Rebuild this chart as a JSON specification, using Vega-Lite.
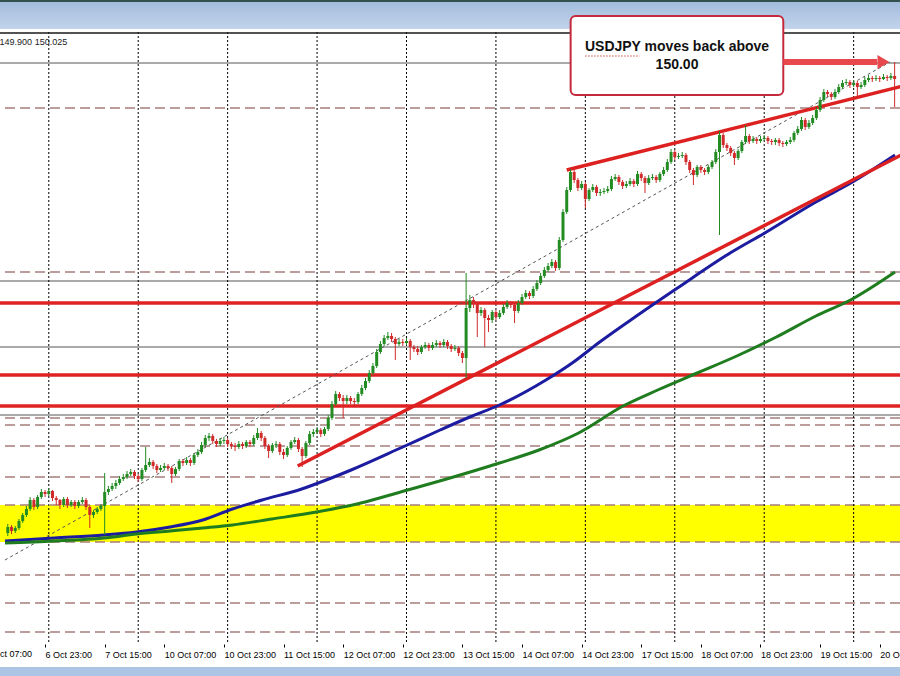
{
  "$schema": "https://vega.github.io/schema/vega-lite/v6.json",
  "width": 900,
  "height": 636,
  "autosize": {"type": "none"},
  "padding": {"top": 32, "bottom": 8, "left": 0, "right": 0},
  "background": "white",
  "config": {"view": {"stroke": null}},
  "datasets": {
    "candles": [
      {"i":6,"o":145.52,"h":145.61,"l":145.49,"c":145.58},
      {"i":7,"o":145.58,"h":145.60,"l":145.51,"c":145.54},
      {"i":8,"o":145.54,"h":145.59,"l":145.52,"c":145.57},
      {"i":9,"o":145.57,"h":145.66,"l":145.55,"c":145.64},
      {"i":10,"o":145.64,"h":145.72,"l":145.62,"c":145.70},
      {"i":11,"o":145.70,"h":145.79,"l":145.68,"c":145.76},
      {"i":12,"o":145.76,"h":145.88,"l":145.74,"c":145.85},
      {"i":13,"o":145.85,"h":145.87,"l":145.75,"c":145.78},
      {"i":14,"o":145.78,"h":145.90,"l":145.76,"c":145.88},
      {"i":15,"o":145.88,"h":145.96,"l":145.86,"c":145.93},
      {"i":16,"o":145.93,"h":145.95,"l":145.88,"c":145.91},
      {"i":17,"o":145.91,"h":145.97,"l":145.89,"c":145.94},
      {"i":18,"o":145.94,"h":145.95,"l":145.84,"c":145.87},
      {"i":19,"o":145.87,"h":145.89,"l":145.80,"c":145.85},
      {"i":20,"o":145.85,"h":145.86,"l":145.76,"c":145.80},
      {"i":21,"o":145.80,"h":145.88,"l":145.78,"c":145.86},
      {"i":22,"o":145.86,"h":145.88,"l":145.77,"c":145.80},
      {"i":23,"o":145.80,"h":145.85,"l":145.78,"c":145.83},
      {"i":24,"o":145.83,"h":145.85,"l":145.76,"c":145.79},
      {"i":25,"o":145.79,"h":145.85,"l":145.77,"c":145.83},
      {"i":26,"o":145.83,"h":145.88,"l":145.81,"c":145.85},
      {"i":27,"o":145.85,"h":145.87,"l":145.75,"c":145.78},
      {"i":28,"o":145.78,"h":145.80,"l":145.57,"c":145.70},
      {"i":29,"o":145.70,"h":145.75,"l":145.67,"c":145.73},
      {"i":30,"o":145.73,"h":145.78,"l":145.71,"c":145.76},
      {"i":31,"o":145.76,"h":145.81,"l":145.74,"c":145.79},
      {"i":32,"o":145.79,"h":146.12,"l":145.50,"c":145.93},
      {"i":33,"o":145.93,"h":145.99,"l":145.90,"c":145.96},
      {"i":34,"o":145.96,"h":146.02,"l":145.94,"c":145.99},
      {"i":35,"o":145.99,"h":146.05,"l":145.96,"c":146.02},
      {"i":36,"o":146.02,"h":146.09,"l":146.00,"c":146.06},
      {"i":37,"o":146.06,"h":146.11,"l":146.04,"c":146.08},
      {"i":38,"o":146.08,"h":146.14,"l":146.06,"c":146.11},
      {"i":39,"o":146.11,"h":146.16,"l":146.09,"c":146.13},
      {"i":40,"o":146.13,"h":146.15,"l":146.06,"c":146.09},
      {"i":41,"o":146.09,"h":146.11,"l":146.03,"c":146.06},
      {"i":42,"o":146.06,"h":146.17,"l":146.04,"c":146.15},
      {"i":43,"o":146.15,"h":146.38,"l":146.13,"c":146.20},
      {"i":44,"o":146.20,"h":146.27,"l":146.18,"c":146.23},
      {"i":45,"o":146.23,"h":146.25,"l":146.16,"c":146.19},
      {"i":46,"o":146.19,"h":146.21,"l":146.12,"c":146.15},
      {"i":47,"o":146.15,"h":146.20,"l":146.13,"c":146.17},
      {"i":48,"o":146.17,"h":146.22,"l":146.15,"c":146.19},
      {"i":49,"o":146.19,"h":146.21,"l":146.14,"c":146.17},
      {"i":50,"o":146.17,"h":146.19,"l":146.02,"c":146.11},
      {"i":51,"o":146.11,"h":146.18,"l":146.09,"c":146.16},
      {"i":52,"o":146.16,"h":146.26,"l":146.14,"c":146.24},
      {"i":53,"o":146.24,"h":146.26,"l":146.19,"c":146.22},
      {"i":54,"o":146.22,"h":146.28,"l":146.20,"c":146.25},
      {"i":55,"o":146.25,"h":146.27,"l":146.19,"c":146.22},
      {"i":56,"o":146.22,"h":146.32,"l":146.20,"c":146.30},
      {"i":57,"o":146.30,"h":146.36,"l":146.28,"c":146.33},
      {"i":58,"o":146.33,"h":146.43,"l":146.31,"c":146.40},
      {"i":59,"o":146.40,"h":146.50,"l":146.38,"c":146.47},
      {"i":60,"o":146.47,"h":146.52,"l":146.44,"c":146.49},
      {"i":61,"o":146.49,"h":146.51,"l":146.41,"c":146.44},
      {"i":62,"o":146.44,"h":146.46,"l":146.38,"c":146.41},
      {"i":63,"o":146.41,"h":146.47,"l":146.39,"c":146.44},
      {"i":64,"o":146.44,"h":146.48,"l":146.41,"c":146.45},
      {"i":65,"o":146.45,"h":146.47,"l":146.38,"c":146.41},
      {"i":66,"o":146.41,"h":146.43,"l":146.36,"c":146.39},
      {"i":67,"o":146.39,"h":146.42,"l":146.34,"c":146.38},
      {"i":68,"o":146.38,"h":146.44,"l":146.36,"c":146.41},
      {"i":69,"o":146.41,"h":146.43,"l":146.36,"c":146.39},
      {"i":70,"o":146.39,"h":146.45,"l":146.37,"c":146.43},
      {"i":71,"o":146.43,"h":146.45,"l":146.38,"c":146.41},
      {"i":72,"o":146.41,"h":146.50,"l":146.39,"c":146.47},
      {"i":73,"o":146.47,"h":146.57,"l":146.45,"c":146.52},
      {"i":74,"o":146.52,"h":146.54,"l":146.44,"c":146.47},
      {"i":75,"o":146.47,"h":146.49,"l":146.36,"c":146.39},
      {"i":76,"o":146.39,"h":146.41,"l":146.27,"c":146.34},
      {"i":77,"o":146.34,"h":146.42,"l":146.32,"c":146.40},
      {"i":78,"o":146.40,"h":146.44,"l":146.37,"c":146.41},
      {"i":79,"o":146.41,"h":146.43,"l":146.30,"c":146.33},
      {"i":80,"o":146.33,"h":146.36,"l":146.26,"c":146.30},
      {"i":81,"o":146.30,"h":146.39,"l":146.28,"c":146.37},
      {"i":82,"o":146.37,"h":146.45,"l":146.35,"c":146.43},
      {"i":83,"o":146.43,"h":146.48,"l":146.41,"c":146.45},
      {"i":84,"o":146.45,"h":146.47,"l":146.33,"c":146.36},
      {"i":85,"o":146.36,"h":146.38,"l":146.18,"c":146.29},
      {"i":86,"o":146.29,"h":146.44,"l":146.27,"c":146.42},
      {"i":87,"o":146.42,"h":146.54,"l":146.40,"c":146.51},
      {"i":88,"o":146.51,"h":146.56,"l":146.48,"c":146.53},
      {"i":89,"o":146.53,"h":146.58,"l":146.51,"c":146.55},
      {"i":90,"o":146.55,"h":146.57,"l":146.48,"c":146.51},
      {"i":91,"o":146.51,"h":146.58,"l":146.49,"c":146.56},
      {"i":92,"o":146.56,"h":146.70,"l":146.54,"c":146.67},
      {"i":93,"o":146.67,"h":146.84,"l":146.65,"c":146.81},
      {"i":94,"o":146.81,"h":146.94,"l":146.79,"c":146.91},
      {"i":95,"o":146.91,"h":146.93,"l":146.84,"c":146.87},
      {"i":96,"o":146.87,"h":146.90,"l":146.67,"c":146.84},
      {"i":97,"o":146.84,"h":146.90,"l":146.81,"c":146.87},
      {"i":98,"o":146.87,"h":146.89,"l":146.81,"c":146.84},
      {"i":99,"o":146.84,"h":146.87,"l":146.79,"c":146.83},
      {"i":100,"o":146.83,"h":146.93,"l":146.81,"c":146.91},
      {"i":101,"o":146.91,"h":147.00,"l":146.89,"c":146.97},
      {"i":102,"o":146.97,"h":147.07,"l":146.95,"c":147.04},
      {"i":103,"o":147.04,"h":147.15,"l":147.02,"c":147.12},
      {"i":104,"o":147.12,"h":147.22,"l":147.10,"c":147.19},
      {"i":105,"o":147.19,"h":147.36,"l":147.17,"c":147.33},
      {"i":106,"o":147.33,"h":147.44,"l":147.31,"c":147.41},
      {"i":107,"o":147.41,"h":147.50,"l":147.39,"c":147.47},
      {"i":108,"o":147.47,"h":147.53,"l":147.45,"c":147.49},
      {"i":109,"o":147.49,"h":147.52,"l":147.43,"c":147.46},
      {"i":110,"o":147.46,"h":147.48,"l":147.25,"c":147.41},
      {"i":111,"o":147.41,"h":147.46,"l":147.39,"c":147.43},
      {"i":112,"o":147.43,"h":147.46,"l":147.39,"c":147.42},
      {"i":113,"o":147.42,"h":147.47,"l":147.40,"c":147.44},
      {"i":114,"o":147.44,"h":147.46,"l":147.25,"c":147.38},
      {"i":115,"o":147.38,"h":147.40,"l":147.33,"c":147.36},
      {"i":116,"o":147.36,"h":147.39,"l":147.30,"c":147.33},
      {"i":117,"o":147.33,"h":147.40,"l":147.31,"c":147.38},
      {"i":118,"o":147.38,"h":147.43,"l":147.36,"c":147.40},
      {"i":119,"o":147.40,"h":147.42,"l":147.34,"c":147.37},
      {"i":120,"o":147.37,"h":147.43,"l":147.35,"c":147.40},
      {"i":121,"o":147.40,"h":147.45,"l":147.38,"c":147.42},
      {"i":122,"o":147.42,"h":147.44,"l":147.37,"c":147.40},
      {"i":123,"o":147.40,"h":147.46,"l":147.38,"c":147.43},
      {"i":124,"o":147.43,"h":147.45,"l":147.36,"c":147.39},
      {"i":125,"o":147.39,"h":147.41,"l":147.33,"c":147.36},
      {"i":126,"o":147.36,"h":147.40,"l":147.34,"c":147.37},
      {"i":127,"o":147.37,"h":147.39,"l":147.29,"c":147.32},
      {"i":128,"o":147.32,"h":147.34,"l":147.22,"c":147.27},
      {"i":129,"o":147.27,"h":148.12,"l":147.07,"c":147.77},
      {"i":130,"o":147.77,"h":147.90,"l":147.73,"c":147.85},
      {"i":131,"o":147.85,"h":147.88,"l":147.77,"c":147.81},
      {"i":132,"o":147.81,"h":147.83,"l":147.48,"c":147.72},
      {"i":133,"o":147.72,"h":147.78,"l":147.69,"c":147.75},
      {"i":134,"o":147.75,"h":147.77,"l":147.38,"c":147.67},
      {"i":135,"o":147.67,"h":147.70,"l":147.53,"c":147.65},
      {"i":136,"o":147.65,"h":147.75,"l":147.62,"c":147.73},
      {"i":137,"o":147.73,"h":147.75,"l":147.65,"c":147.68},
      {"i":138,"o":147.68,"h":147.75,"l":147.66,"c":147.72},
      {"i":139,"o":147.72,"h":147.81,"l":147.70,"c":147.78},
      {"i":140,"o":147.78,"h":147.85,"l":147.76,"c":147.82},
      {"i":141,"o":147.82,"h":147.84,"l":147.77,"c":147.80},
      {"i":142,"o":147.80,"h":147.82,"l":147.62,"c":147.74},
      {"i":143,"o":147.74,"h":147.85,"l":147.72,"c":147.82},
      {"i":144,"o":147.82,"h":147.91,"l":147.80,"c":147.88},
      {"i":145,"o":147.88,"h":147.95,"l":147.86,"c":147.92},
      {"i":146,"o":147.92,"h":147.94,"l":147.86,"c":147.89},
      {"i":147,"o":147.89,"h":147.99,"l":147.87,"c":147.96},
      {"i":148,"o":147.96,"h":148.05,"l":147.94,"c":148.02},
      {"i":149,"o":148.02,"h":148.12,"l":148.00,"c":148.09},
      {"i":150,"o":148.09,"h":148.18,"l":148.07,"c":148.15},
      {"i":151,"o":148.15,"h":148.22,"l":148.13,"c":148.19},
      {"i":152,"o":148.19,"h":148.26,"l":148.17,"c":148.23},
      {"i":153,"o":148.23,"h":148.25,"l":148.14,"c":148.17},
      {"i":154,"o":148.17,"h":148.48,"l":148.15,"c":148.45},
      {"i":155,"o":148.45,"h":148.76,"l":148.43,"c":148.73},
      {"i":156,"o":148.73,"h":148.98,"l":148.71,"c":148.95},
      {"i":157,"o":148.95,"h":149.16,"l":148.93,"c":149.13},
      {"i":158,"o":149.13,"h":149.15,"l":149.02,"c":149.05},
      {"i":159,"o":149.05,"h":149.07,"l":148.94,"c":148.97},
      {"i":160,"o":148.97,"h":149.04,"l":148.95,"c":149.01},
      {"i":161,"o":149.01,"h":149.03,"l":148.77,"c":148.86},
      {"i":162,"o":148.86,"h":148.97,"l":148.84,"c":148.95},
      {"i":163,"o":148.95,"h":149.01,"l":148.93,"c":148.98},
      {"i":164,"o":148.98,"h":149.00,"l":148.89,"c":148.92},
      {"i":165,"o":148.92,"h":148.96,"l":148.89,"c":148.93},
      {"i":166,"o":148.93,"h":148.97,"l":148.91,"c":148.94},
      {"i":167,"o":148.94,"h":148.99,"l":148.92,"c":148.96},
      {"i":168,"o":148.96,"h":149.09,"l":148.94,"c":149.06},
      {"i":169,"o":149.06,"h":149.11,"l":149.04,"c":149.08},
      {"i":170,"o":149.08,"h":149.10,"l":149.00,"c":149.03},
      {"i":171,"o":149.03,"h":149.05,"l":148.96,"c":148.99},
      {"i":172,"o":148.99,"h":149.04,"l":148.97,"c":149.01},
      {"i":173,"o":149.01,"h":149.07,"l":148.99,"c":149.04},
      {"i":174,"o":149.04,"h":149.06,"l":148.98,"c":149.01},
      {"i":175,"o":149.01,"h":149.14,"l":148.99,"c":149.11},
      {"i":176,"o":149.11,"h":149.13,"l":149.04,"c":149.07},
      {"i":177,"o":149.07,"h":149.09,"l":148.92,"c":149.02},
      {"i":178,"o":149.02,"h":149.10,"l":149.00,"c":149.07},
      {"i":179,"o":149.07,"h":149.11,"l":149.05,"c":149.08},
      {"i":180,"o":149.08,"h":149.10,"l":149.02,"c":149.05},
      {"i":181,"o":149.05,"h":149.13,"l":149.03,"c":149.11},
      {"i":182,"o":149.11,"h":149.18,"l":149.09,"c":149.15},
      {"i":183,"o":149.15,"h":149.26,"l":149.13,"c":149.23},
      {"i":184,"o":149.23,"h":149.36,"l":149.21,"c":149.33},
      {"i":185,"o":149.33,"h":149.35,"l":149.25,"c":149.28},
      {"i":186,"o":149.28,"h":149.32,"l":149.26,"c":149.29},
      {"i":187,"o":149.29,"h":149.33,"l":149.27,"c":149.30},
      {"i":188,"o":149.30,"h":149.32,"l":149.20,"c":149.23},
      {"i":189,"o":149.23,"h":149.25,"l":149.12,"c":149.15},
      {"i":190,"o":149.15,"h":149.17,"l":149.00,"c":149.10},
      {"i":191,"o":149.10,"h":149.20,"l":149.08,"c":149.18},
      {"i":192,"o":149.18,"h":149.20,"l":149.12,"c":149.15},
      {"i":193,"o":149.15,"h":149.17,"l":149.10,"c":149.13},
      {"i":194,"o":149.13,"h":149.20,"l":149.11,"c":149.18},
      {"i":195,"o":149.18,"h":149.25,"l":149.16,"c":149.23},
      {"i":196,"o":149.23,"h":149.36,"l":149.21,"c":149.33},
      {"i":197,"o":149.33,"h":149.54,"l":148.50,"c":149.50},
      {"i":198,"o":149.50,"h":149.52,"l":149.37,"c":149.40},
      {"i":199,"o":149.40,"h":149.42,"l":149.34,"c":149.37},
      {"i":200,"o":149.37,"h":149.39,"l":149.29,"c":149.32},
      {"i":201,"o":149.32,"h":149.34,"l":149.20,"c":149.27},
      {"i":202,"o":149.27,"h":149.36,"l":149.25,"c":149.34},
      {"i":203,"o":149.34,"h":149.45,"l":149.32,"c":149.43},
      {"i":204,"o":149.43,"h":149.60,"l":149.41,"c":149.49},
      {"i":205,"o":149.49,"h":149.51,"l":149.41,"c":149.44},
      {"i":206,"o":149.44,"h":149.49,"l":149.42,"c":149.46},
      {"i":207,"o":149.46,"h":149.48,"l":149.41,"c":149.44},
      {"i":208,"o":149.44,"h":149.49,"l":149.42,"c":149.46},
      {"i":209,"o":149.46,"h":149.50,"l":149.44,"c":149.47},
      {"i":210,"o":149.47,"h":149.49,"l":149.41,"c":149.44},
      {"i":211,"o":149.44,"h":149.46,"l":149.40,"c":149.43},
      {"i":212,"o":149.43,"h":149.47,"l":149.40,"c":149.45},
      {"i":213,"o":149.45,"h":149.47,"l":149.39,"c":149.42},
      {"i":214,"o":149.42,"h":149.44,"l":149.38,"c":149.41},
      {"i":215,"o":149.41,"h":149.45,"l":149.39,"c":149.43},
      {"i":216,"o":149.43,"h":149.48,"l":149.41,"c":149.45},
      {"i":217,"o":149.45,"h":149.54,"l":149.43,"c":149.52},
      {"i":218,"o":149.52,"h":149.59,"l":149.50,"c":149.56},
      {"i":219,"o":149.56,"h":149.68,"l":149.54,"c":149.65},
      {"i":220,"o":149.65,"h":149.67,"l":149.55,"c":149.58},
      {"i":221,"o":149.58,"h":149.65,"l":149.56,"c":149.62},
      {"i":222,"o":149.62,"h":149.70,"l":149.60,"c":149.67},
      {"i":223,"o":149.67,"h":149.78,"l":149.65,"c":149.75},
      {"i":224,"o":149.75,"h":149.88,"l":149.73,"c":149.85},
      {"i":225,"o":149.85,"h":149.96,"l":149.83,"c":149.93},
      {"i":226,"o":149.93,"h":149.95,"l":149.88,"c":149.91},
      {"i":227,"o":149.91,"h":149.93,"l":149.85,"c":149.88},
      {"i":228,"o":149.88,"h":149.96,"l":149.86,"c":149.93},
      {"i":229,"o":149.93,"h":150.01,"l":149.91,"c":149.98},
      {"i":230,"o":149.98,"h":150.05,"l":149.96,"c":150.02},
      {"i":231,"o":150.02,"h":150.06,"l":150.00,"c":150.03},
      {"i":232,"o":150.03,"h":150.05,"l":149.97,"c":150.00},
      {"i":233,"o":150.00,"h":150.05,"l":149.98,"c":150.02},
      {"i":234,"o":150.02,"h":150.04,"l":149.88,"c":149.98},
      {"i":235,"o":149.98,"h":150.03,"l":149.96,"c":150.00},
      {"i":236,"o":150.00,"h":150.08,"l":149.98,"c":150.05},
      {"i":237,"o":150.05,"h":150.10,"l":150.03,"c":150.07},
      {"i":238,"o":150.07,"h":150.09,"l":150.03,"c":150.06},
      {"i":239,"o":150.06,"h":150.10,"l":150.04,"c":150.07},
      {"i":240,"o":150.07,"h":150.09,"l":150.03,"c":150.06},
      {"i":241,"o":150.06,"h":150.11,"l":150.05,"c":150.08},
      {"i":242,"o":150.08,"h":150.10,"l":150.04,"c":150.07},
      {"i":243,"o":150.07,"h":150.12,"l":150.05,"c":150.09},
      {"i":244,"o":150.09,"h":150.23,"l":149.78,"c":150.06}
    ],
    "ma": [
      {"i":5.25,"p":145.44,"s":"ma100"},{"i":18.52,"p":145.47,"s":"ma100"},{"i":31.79,"p":145.50,"s":"ma100"},
      {"i":40.55,"p":145.53,"s":"ma100"},{"i":49.57,"p":145.58,"s":"ma100"},{"i":58.33,"p":145.65,"s":"ma100"},
      {"i":66.29,"p":145.76,"s":"ma100"},{"i":74.25,"p":145.85,"s":"ma100"},{"i":84.87,"p":145.96,"s":"ma100"},
      {"i":92.83,"p":146.07,"s":"ma100"},{"i":98.14,"p":146.15,"s":"ma100"},{"i":111.41,"p":146.37,"s":"ma100"},
      {"i":122.02,"p":146.55,"s":"ma100"},{"i":129.98,"p":146.68,"s":"ma100"},{"i":137.95,"p":146.80,"s":"ma100"},
      {"i":150.42,"p":147.05,"s":"ma100"},{"i":157.85,"p":147.23,"s":"ma100"},{"i":164.49,"p":147.42,"s":"ma100"},
      {"i":175.10,"p":147.70,"s":"ma100"},{"i":185.72,"p":147.97,"s":"ma100"},{"i":198.99,"p":148.30,"s":"ma100"},
      {"i":209.60,"p":148.53,"s":"ma100"},{"i":222.87,"p":148.83,"s":"ma100"},{"i":232.69,"p":149.03,"s":"ma100"},
      {"i":244.10,"p":149.30,"s":"ma100"},
      {"i":5.25,"p":145.42,"s":"ma200"},{"i":18.52,"p":145.44,"s":"ma200"},{"i":31.79,"p":145.47,"s":"ma200"},
      {"i":40.55,"p":145.51,"s":"ma200"},{"i":49.57,"p":145.54,"s":"ma200"},{"i":58.33,"p":145.57,"s":"ma200"},
      {"i":66.29,"p":145.60,"s":"ma200"},{"i":76.91,"p":145.66,"s":"ma200"},{"i":88.85,"p":145.73,"s":"ma200"},
      {"i":100.79,"p":145.82,"s":"ma200"},{"i":111.41,"p":145.93,"s":"ma200"},{"i":124.68,"p":146.07,"s":"ma200"},
      {"i":137.95,"p":146.22,"s":"ma200"},{"i":148.56,"p":146.35,"s":"ma200"},{"i":159.18,"p":146.52,"s":"ma200"},
      {"i":171.12,"p":146.79,"s":"ma200"},{"i":180.41,"p":146.95,"s":"ma200"},{"i":191.02,"p":147.12,"s":"ma200"},
      {"i":201.64,"p":147.29,"s":"ma200"},{"i":212.26,"p":147.48,"s":"ma200"},{"i":222.87,"p":147.69,"s":"ma200"},
      {"i":232.16,"p":147.85,"s":"ma200"},{"i":244.10,"p":148.13,"s":"ma200"}
    ],
    "hlines": [
      {"p":150.22,"k":"solid"},{"p":148.04,"k":"solid"},{"p":147.38,"k":"solid"},{"p":146.70,"k":"solid"},
      {"p":149.77,"k":"dash"},{"p":148.13,"k":"dash"},{"p":146.67,"k":"dash"},{"p":146.60,"k":"dash"},
      {"p":146.39,"k":"dash"},{"p":146.08,"k":"dash"},{"p":145.80,"k":"dash"},{"p":145.43,"k":"dash"},
      {"p":145.10,"k":"dash"},{"p":144.82,"k":"dash"},{"p":144.53,"k":"dash"},
      {"p":147.82,"k":"red"},{"p":147.10,"k":"red"},{"p":146.79,"k":"red"}
    ],
    "seps": [{"i":17},{"i":41},{"i":65},{"i":89},{"i":113},{"i":137},{"i":161},{"i":185},{"i":209},{"i":233}],
    "trend": [
      {"i":83.8,"p":146.19,"g":"lower"},{"i":249.4,"p":149.37,"g":"lower"},
      {"i":156.0,"p":149.15,"g":"upper"},{"i":249.4,"p":150.02,"g":"upper"}
    ],
    "diag": [{"i":5.25,"p":145.25},{"i":242.78,"p":150.23}]
  },
  "layer": [
    {
      "data": {"values": [{"p1":150.83,"p2":150.56}]},
      "mark": {"type":"rect","clip":false,"color":{"gradient":"linear","x1":0,"y1":0,"x2":0,"y2":1,"stops":[{"offset":0,"color":"#a3bcdc"},{"offset":1,"color":"#c2d4ec"}]}},
      "encoding": {
        "y": {"field":"p1","type":"quantitative","scale":{"domain":[144.17,150.53],"nice":false,"zero":false},"axis":null},
        "y2": {"field":"p2"}
      }
    },
    {
      "data": {"values": [{"p1":150.85,"p2":150.83}]},
      "mark": {"type":"rect","clip":false,"color":"#34504e"},
      "encoding": {"y": {"field":"p1","type":"quantitative","axis":null}, "y2": {"field":"p2"}}
    },
    {
      "data": {"values": [{"p1":144.18,"p2":144.05}]},
      "mark": {"type":"rect","clip":false,"color":"#adc5e5"},
      "encoding": {"y": {"field":"p1","type":"quantitative","axis":null}, "y2": {"field":"p2"}}
    },
    {
      "data": {"values": [{"p1":145.80,"p2":145.43}]},
      "mark": {"type":"rect","color":"#ffff00"},
      "encoding": {"y": {"field":"p1","type":"quantitative","axis":null}, "y2": {"field":"p2"}}
    },
    {
      "data": {"name":"hlines"},
      "transform": [{"filter":"datum.k === 'dash'"}],
      "mark": {"type":"rule","color":"#a87c7c","strokeWidth":1.3,"strokeDash":[10,5]},
      "encoding": {"y": {"field":"p","type":"quantitative","axis":null}}
    },
    {
      "data": {"name":"hlines"},
      "transform": [{"filter":"datum.k === 'solid'"}],
      "mark": {"type":"rule","color":"#555555","strokeWidth":1},
      "encoding": {"y": {"field":"p","type":"quantitative","axis":null}}
    },
    {
      "data": {"name":"seps"},
      "mark": {"type":"rule","color":"#000000","strokeWidth":1,"strokeDash":[2,2]},
      "encoding": {
        "x": {"field":"i","type":"quantitative","scale":{"domain":[5.25,244.1],"nice":false,"zero":false},
          "axis": {"title":null,"values":[16,32,48,64,80,96,112,128,144,160,176,192,208,224,240],
            "labelExpr":"['6 Oct 23:00','7 Oct 15:00','10 Oct 07:00','10 Oct 23:00','11 Oct 15:00','12 Oct 07:00','12 Oct 23:00','13 Oct 15:00','14 Oct 07:00','14 Oct 23:00','17 Oct 15:00','18 Oct 07:00','18 Oct 23:00','19 Oct 15:00','20 Oct 07:00'][datum.value/16-1]",
            "orient":"bottom","offset":-24,"domain":false,"grid":false,"ticks":true,"tickSize":3,"tickColor":"#000","tickWidth":1,
            "labelAlign":"left","labelBaseline":"top","labelPadding":3,"labelFont":"Liberation Sans","labelFontSize":9,
            "labelColor":"#000","labelFlush":false,"labelOverlap":false,"labelBound":false}},
        "y": {"datum":150.53,"type":"quantitative","axis":null},
        "y2": {"datum":144.41}
      }
    },
    {
      "data": {"name":"hlines"},
      "transform": [{"filter":"datum.k === 'red'"}],
      "mark": {"type":"rule","color":"#e02222","strokeWidth":3.5},
      "encoding": {"y": {"field":"p","type":"quantitative","axis":null}}
    },
    {
      "data": {"name":"diag"},
      "mark": {"type":"line","color":"#555555","strokeWidth":1,"strokeDash":[3,3]},
      "encoding": {"x": {"field":"i","type":"quantitative"}, "y": {"field":"p","type":"quantitative","axis":null}}
    },
    {
      "data": {"name":"ma"},
      "mark": {"type":"line","strokeWidth":3,"interpolate":"monotone"},
      "encoding": {
        "x": {"field":"i","type":"quantitative"},
        "y": {"field":"p","type":"quantitative","axis":null},
        "color": {"field":"s","type":"nominal","scale":{"domain":["ma100","ma200"],"range":["#1c1ca0","#1f7d1f"]},"legend":null}
      }
    },
    {
      "data": {"name":"trend"},
      "mark": {"type":"line","color":"#dd2020","strokeWidth":3.5,"clip":true},
      "encoding": {"x": {"field":"i","type":"quantitative"}, "y": {"field":"p","type":"quantitative","axis":null}, "detail": {"field":"g"}}
    },
    {
      "data": {"name":"candles"},
      "mark": {"type":"rule","strokeWidth":1},
      "encoding": {
        "x": {"field":"i","type":"quantitative"},
        "y": {"field":"l","type":"quantitative","axis":null},
        "y2": {"field":"h"},
        "color": {"condition": {"test":"datum.c >= datum.o","value":"#228b22"},"value":"#d02a2a"}
      }
    },
    {
      "data": {"name":"candles"},
      "mark": {"type":"bar","size":3},
      "encoding": {
        "x": {"field":"i","type":"quantitative"},
        "y": {"field":"o","type":"quantitative","axis":null},
        "y2": {"field":"c"},
        "color": {"condition": {"test":"datum.c >= datum.o","value":"#228b22"},"value":"#d02a2a"}
      }
    },
    {
      "data": {"values": [{}]},
      "mark": {"type":"rule","color":"#1a1a1a","strokeWidth":1.5},
      "encoding": {"y": {"datum":150.52,"type":"quantitative","axis":null}}
    },
    {
      "data": {"values": [{"i":3.8,"p":150.43,"t":"149.900 150.025"}]},
      "mark": {"type":"text","align":"left","baseline":"middle","font":"Liberation Sans","fontSize":9,"color":"#222222","clip":false},
      "encoding": {"x": {"field":"i","type":"quantitative"}, "y": {"field":"p","type":"quantitative","axis":null}, "text": {"field":"t"}}
    },
    {
      "data": {"values": [{"i":0,"p":144.35,"t":"6 Oct 07:00"}]},
      "mark": {"type":"text","align":"left","baseline":"top","font":"Liberation Sans","fontSize":9,"color":"#000000","clip":false},
      "encoding": {"x": {"field":"i","type":"quantitative"}, "y": {"field":"p","type":"quantitative","axis":null}, "text": {"field":"t"}}
    },
    {
      "data": {"values": [{"i":157.05,"i2":214.12,"p":150.69,"p2":149.90}]},
      "mark": {"type":"rect","fill":"#ffffff","stroke":"#c42a3c","strokeWidth":2,"cornerRadius":5,"clip":false},
      "encoding": {"x": {"field":"i","type":"quantitative"}, "x2": {"field":"i2"}, "y": {"field":"p","type":"quantitative","axis":null}, "y2": {"field":"p2"}}
    },
    {
      "data": {"values": [{"i":185.6,"p":150.38,"t":"USDJPY moves back above"},{"i":185.6,"p":150.20,"t":"150.00"}]},
      "mark": {"type":"text","align":"center","baseline":"middle","font":"Liberation Sans","fontSize":14,"fontWeight":"bold","color":"#111111","clip":false},
      "encoding": {"x": {"field":"i","type":"quantitative"}, "y": {"field":"p","type":"quantitative","axis":null}, "text": {"field":"t"}}
    },
    {
      "data": {"values": [{"i":160.95,"i2":175.55,"p":150.29}]},
      "mark": {"type":"rule","color":"#d04848","strokeWidth":1.2,"strokeDash":[1.5,1.5],"clip":false},
      "encoding": {"x": {"field":"i","type":"quantitative"}, "x2": {"field":"i2"}, "y": {"field":"p","type":"quantitative","axis":null}}
    },
    {
      "data": {"values": [{"i":214.12,"p":150.23},{"i":239.3,"p":150.23}]},
      "mark": {"type":"line","color":"#e8474c","strokeWidth":6,"clip":false},
      "encoding": {"x": {"field":"i","type":"quantitative"}, "y": {"field":"p","type":"quantitative","axis":null}}
    },
    {
      "data": {"values": [{"i":241.0,"p":150.23}]},
      "mark": {"type":"point","shape":"triangle-right","size":190,"filled":true,"color":"#e8474c","opacity":1,"clip":false},
      "encoding": {"x": {"field":"i","type":"quantitative"}, "y": {"field":"p","type":"quantitative","axis":null}}
    }
  ]
}
